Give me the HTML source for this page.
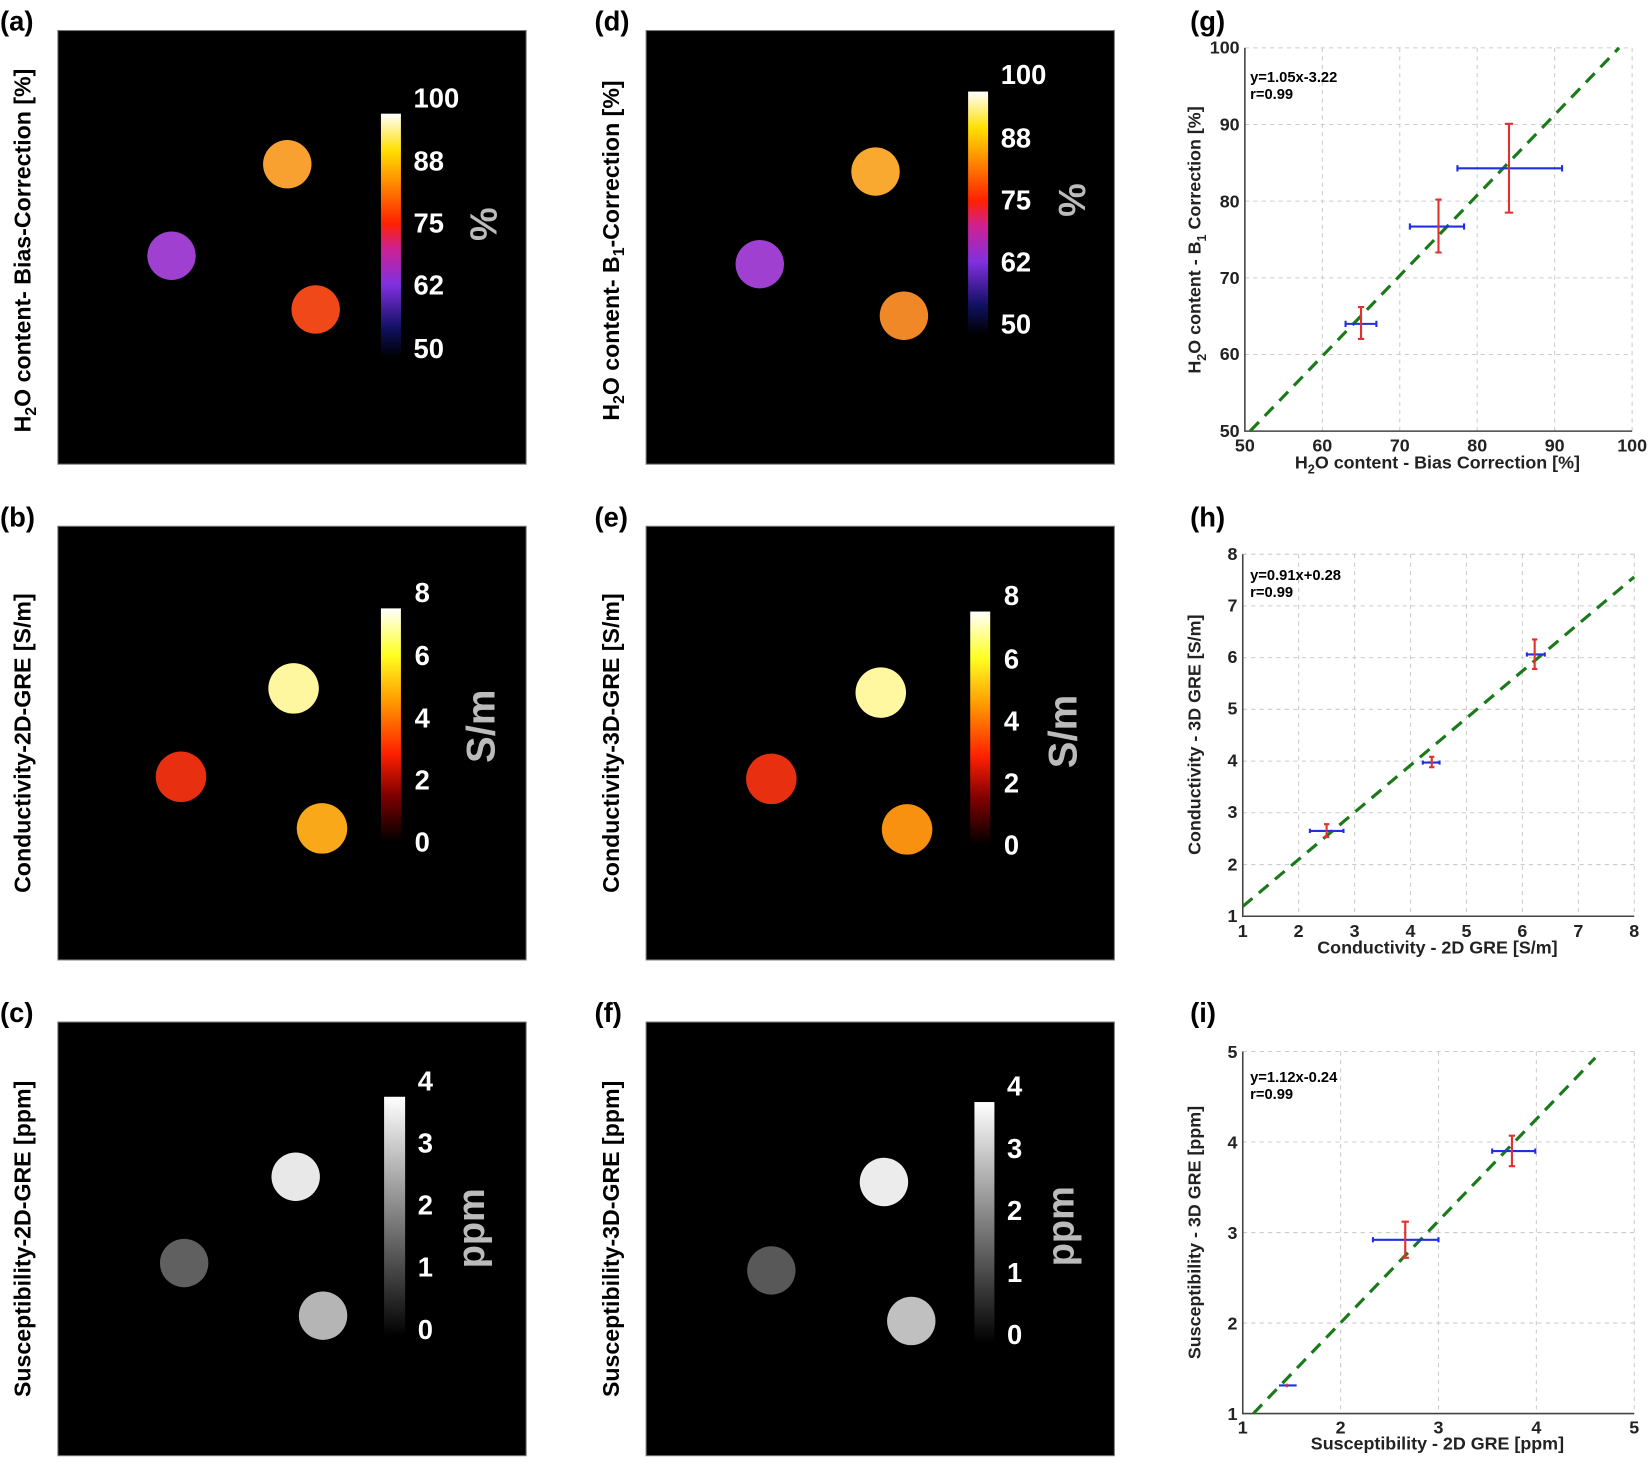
<!DOCTYPE html>
<html><head><meta charset="utf-8"><style>
html,body{margin:0;padding:0;background:#fff}
svg{display:block}
text{font-family:"Liberation Sans",sans-serif;font-weight:bold}
</style></head><body>
<svg width="1650" height="1462" viewBox="0 0 1568 1389" preserveAspectRatio="none" xmlns="http://www.w3.org/2000/svg">
<defs>
<linearGradient id="fire" x1="0" y1="1" x2="0" y2="0">
<stop offset="0" stop-color="#000"/><stop offset="0.12" stop-color="#101060"/><stop offset="0.3" stop-color="#8030e0"/><stop offset="0.45" stop-color="#d02090"/><stop offset="0.55" stop-color="#ff2000"/><stop offset="0.7" stop-color="#ff8000"/><stop offset="0.85" stop-color="#ffe000"/><stop offset="1" stop-color="#fff"/>
</linearGradient>
<linearGradient id="hot" x1="0" y1="1" x2="0" y2="0">
<stop offset="0" stop-color="#000"/><stop offset="0.2" stop-color="#800000"/><stop offset="0.38" stop-color="#ff2000"/><stop offset="0.6" stop-color="#ff9900"/><stop offset="0.8" stop-color="#ffff20"/><stop offset="1" stop-color="#fff"/>
</linearGradient>
<linearGradient id="gray" x1="0" y1="1" x2="0" y2="0">
<stop offset="0" stop-color="#000"/><stop offset="1" stop-color="#fff"/>
</linearGradient>
</defs>

<g font-size="26" fill="#000">
<text x="0" y="29">(a)</text><text x="0" y="500">(b)</text><text x="0" y="971">(c)</text>
<text x="565" y="29">(d)</text><text x="565" y="500">(e)</text><text x="565" y="971">(f)</text>
<text x="1131" y="29">(g)</text><text x="1131" y="500">(h)</text><text x="1131" y="971">(i)</text>
</g>

<g fill="#000" stroke="#777" stroke-width="1">
<rect x="55" y="29" width="445" height="412"/><rect x="614" y="29" width="445" height="412"/>
<rect x="55" y="500" width="445" height="412"/><rect x="614" y="500" width="445" height="412"/>
<rect x="55" y="971" width="445" height="412"/><rect x="614" y="971" width="445" height="412"/>
</g>

<g font-size="22" fill="#000" text-anchor="middle">
<text transform="translate(29,238) rotate(-90)">H<tspan font-size="15" dy="5">2</tspan><tspan dy="-5">O content- Bias-Correction [%]</tspan></text>
<text transform="translate(588,238) rotate(-90)">H<tspan font-size="15" dy="5">2</tspan><tspan dy="-5">O content- B</tspan><tspan font-size="15" dy="5">1</tspan><tspan dy="-5">-Correction [%]</tspan></text>
<text transform="translate(29,706) rotate(-90)">Conductivity-2D-GRE [S/m]</text>
<text transform="translate(588,706) rotate(-90)">Conductivity-3D-GRE [S/m]</text>
<text transform="translate(29,1177) rotate(-90)">Susceptibility-2D-GRE [ppm]</text>
<text transform="translate(588,1177) rotate(-90)">Susceptibility-3D-GRE [ppm]</text>
</g>

<!-- panel a -->
<circle cx="273" cy="156" r="23" fill="#f8a030"/>
<circle cx="163" cy="243" r="23" fill="#a040d0"/>
<circle cx="300" cy="294" r="23" fill="#f04818"/>
<rect x="362" y="108" width="19" height="232" fill="url(#fire)"/>
<g fill="#fff" font-size="26" font-weight="normal">
<text x="393" y="102">100</text><text x="393" y="162">88</text><text x="393" y="221">75</text><text x="393" y="280">62</text><text x="393" y="340">50</text>
</g>
<text transform="translate(472,213) rotate(-90)" text-anchor="middle" fill="#bbb" font-size="36">%</text>

<!-- panel d -->
<circle cx="832" cy="163" r="23" fill="#f9a830"/>
<circle cx="722" cy="251" r="23" fill="#a040d0"/>
<circle cx="859" cy="300" r="23" fill="#f08828"/>
<rect x="920" y="87" width="19" height="231" fill="url(#fire)"/>
<g fill="#fff" font-size="26" font-weight="normal">
<text x="951" y="80">100</text><text x="951" y="140">88</text><text x="951" y="199">75</text><text x="951" y="258">62</text><text x="951" y="317">50</text>
</g>
<text transform="translate(1031,190) rotate(-90)" text-anchor="middle" fill="#bbb" font-size="36">%</text>

<!-- panel b -->
<circle cx="279" cy="654" r="24" fill="#fff6a0"/>
<circle cx="172" cy="738" r="24" fill="#e83010"/>
<circle cx="306" cy="787" r="24" fill="#f8a818"/>
<rect x="362" y="578" width="19" height="222" fill="url(#hot)"/>
<g fill="#fff" font-size="26" font-weight="normal">
<text x="394" y="572">8</text><text x="394" y="632">6</text><text x="394" y="691">4</text><text x="394" y="750">2</text><text x="394" y="809">0</text>
</g>
<text transform="translate(470,690) rotate(-90)" text-anchor="middle" fill="#bbb" font-size="38">S/m</text>

<!-- panel e -->
<circle cx="837" cy="658" r="24" fill="#fff8a0"/>
<circle cx="733" cy="740" r="24" fill="#e83010"/>
<circle cx="862" cy="788" r="24" fill="#f89010"/>
<rect x="922" y="581" width="19" height="222" fill="url(#hot)"/>
<g fill="#fff" font-size="26" font-weight="normal">
<text x="954" y="575">8</text><text x="954" y="635">6</text><text x="954" y="694">4</text><text x="954" y="753">2</text><text x="954" y="812">0</text>
</g>
<text transform="translate(1023,695) rotate(-90)" text-anchor="middle" fill="#bbb" font-size="38">S/m</text>

<!-- panel c -->
<circle cx="281" cy="1118" r="23" fill="#e8e8e8"/>
<circle cx="175" cy="1200" r="23" fill="#606060"/>
<circle cx="307" cy="1250" r="23" fill="#b5b5b5"/>
<rect x="365" y="1042" width="20" height="228" fill="url(#gray)"/>
<g fill="#fff" font-size="26" font-weight="normal">
<text x="397" y="1036">4</text><text x="397" y="1095">3</text><text x="397" y="1154">2</text><text x="397" y="1213">1</text><text x="397" y="1272">0</text>
</g>
<text transform="translate(460,1167) rotate(-90)" text-anchor="middle" fill="#bbb" font-size="36">ppm</text>

<!-- panel f -->
<circle cx="840" cy="1123" r="23" fill="#ececec"/>
<circle cx="733" cy="1207" r="23" fill="#585858"/>
<circle cx="866" cy="1255" r="23" fill="#c0c0c0"/>
<rect x="926" y="1047" width="19" height="229" fill="url(#gray)"/>
<g fill="#fff" font-size="26" font-weight="normal">
<text x="957" y="1041">4</text><text x="957" y="1100">3</text><text x="957" y="1159">2</text><text x="957" y="1218">1</text><text x="957" y="1277">0</text>
</g>
<text transform="translate(1020,1165) rotate(-90)" text-anchor="middle" fill="#bbb" font-size="36">ppm</text>

<!-- ===== plot g ===== -->
<g stroke="#ccc" stroke-width="1" stroke-dasharray="4 4">
<line x1="1256.6" y1="45.5" x2="1256.6" y2="409.6"/><line x1="1330.2" y1="45.5" x2="1330.2" y2="409.6"/><line x1="1403.8" y1="45.5" x2="1403.8" y2="409.6"/><line x1="1477.4" y1="45.5" x2="1477.4" y2="409.6"/><line x1="1551" y1="45.5" x2="1551" y2="409.6"/>
<line x1="1183" y1="336.8" x2="1551" y2="336.8"/><line x1="1183" y1="264" x2="1551" y2="264"/><line x1="1183" y1="191.1" x2="1551" y2="191.1"/><line x1="1183" y1="118.3" x2="1551" y2="118.3"/><line x1="1183" y1="45.5" x2="1551" y2="45.5"/>
</g>
<path d="M1183 45.5V409.6H1551" fill="none" stroke="#444" stroke-width="1.5"/>
<line x1="1188" y1="409.6" x2="1538.6" y2="45.5" stroke="#1a7a1a" stroke-width="3" stroke-dasharray="12 8"/>
<g stroke="#2030e0" stroke-width="2">
<path d="M1278.7 307.7H1308M1278.7 304.7v6M1308 304.7v6"/>
<path d="M1339.8 215.2H1391.3M1339.8 212.2v6M1391.3 212.2v6"/>
<path d="M1385 159.9H1484.4M1385 156.9v6M1484.4 156.9v6"/>
</g>
<g stroke="#e03030" stroke-width="2">
<path d="M1293.4 322V291.7M1290.4 322h6M1290.4 291.7h6"/>
<path d="M1367 239.9V189.6M1364 239.9h6M1364 189.6h6"/>
<path d="M1434 202V117.6M1430 202h8M1430 117.6h8"/>
</g>
<g font-size="17" fill="#222" text-anchor="end">
<text x="1178" y="51">100</text><text x="1178" y="124">90</text><text x="1178" y="197">80</text><text x="1178" y="270">70</text><text x="1178" y="342">60</text><text x="1178" y="415">50</text>
</g>
<g font-size="17" fill="#222" text-anchor="middle">
<text x="1183" y="429">50</text><text x="1256.6" y="429">60</text><text x="1330.2" y="429">70</text><text x="1403.8" y="429">80</text><text x="1477.4" y="429">90</text><text x="1551" y="429">100</text>
<text x="1366" y="445">H<tspan font-size="12" dy="5">2</tspan><tspan dy="-5">O content - Bias Correction [%]</tspan></text>
<text transform="translate(1141,228) rotate(-90)">H<tspan font-size="12" dy="5">2</tspan><tspan dy="-5">O content - B</tspan><tspan font-size="12" dy="5">1</tspan><tspan dy="-5"> Correction [%]</tspan></text>
</g>
<g font-size="14" fill="#000"><text x="1188" y="78">y=1.05x-3.22</text><text x="1188" y="94">r=0.99</text></g>

<!-- ===== plot h ===== -->
<g stroke="#ccc" stroke-width="1" stroke-dasharray="4 4">
<line x1="1234.1" y1="526.5" x2="1234.1" y2="870.5"/><line x1="1287.3" y1="526.5" x2="1287.3" y2="870.5"/><line x1="1340.4" y1="526.5" x2="1340.4" y2="870.5"/><line x1="1393.6" y1="526.5" x2="1393.6" y2="870.5"/><line x1="1446.7" y1="526.5" x2="1446.7" y2="870.5"/><line x1="1499.9" y1="526.5" x2="1499.9" y2="870.5"/><line x1="1553" y1="526.5" x2="1553" y2="870.5"/>
<line x1="1181" y1="821.4" x2="1553" y2="821.4"/><line x1="1181" y1="772.2" x2="1553" y2="772.2"/><line x1="1181" y1="723.1" x2="1553" y2="723.1"/><line x1="1181" y1="673.9" x2="1553" y2="673.9"/><line x1="1181" y1="624.8" x2="1553" y2="624.8"/><line x1="1181" y1="575.6" x2="1553" y2="575.6"/><line x1="1181" y1="526.5" x2="1553" y2="526.5"/>
</g>
<path d="M1181 526.5V870.5H1553" fill="none" stroke="#444" stroke-width="1.5"/>
<line x1="1181" y1="861.2" x2="1553" y2="548.1" stroke="#1a7a1a" stroke-width="3" stroke-dasharray="12 8"/>
<g stroke="#2030e0" stroke-width="2">
<path d="M1244.8 789.4H1276.7M1244.8 787.4v4M1276.7 787.4v4"/>
<path d="M1352.1 724.5H1368M1352.1 722.5v4M1368 722.5v4"/>
<path d="M1451 621.8H1468M1451 619.8v4M1468 619.8v4"/>
</g>
<g stroke="#e03030" stroke-width="2">
<path d="M1260.7 795.3V783M1258.2 795.3h5M1258.2 783h5"/>
<path d="M1360.6 728.9V719M1358.1 728.9h5M1358.1 719h5"/>
<path d="M1458.4 635.5V607.5M1455.9 635.5h5M1455.9 607.5h5"/>
</g>
<g font-size="17" fill="#222" text-anchor="end">
<text x="1176" y="532">8</text><text x="1176" y="581">7</text><text x="1176" y="630">6</text><text x="1176" y="679">5</text><text x="1176" y="728">4</text><text x="1176" y="777">3</text><text x="1176" y="827">2</text><text x="1176" y="876">1</text>
</g>
<g font-size="17" fill="#222" text-anchor="middle">
<text x="1181" y="890">1</text><text x="1234.1" y="890">2</text><text x="1287.3" y="890">3</text><text x="1340.4" y="890">4</text><text x="1393.6" y="890">5</text><text x="1446.7" y="890">6</text><text x="1499.9" y="890">7</text><text x="1553" y="890">8</text>
<text x="1366" y="906">Conductivity - 2D GRE [S/m]</text>
<text transform="translate(1141,698) rotate(-90)">Conductivity - 3D GRE [S/m]</text>
</g>
<g font-size="14" fill="#000"><text x="1188" y="551">y=0.91x+0.28</text><text x="1188" y="567">r=0.99</text></g>

<!-- ===== plot i ===== -->
<g stroke="#ccc" stroke-width="1" stroke-dasharray="4 4">
<line x1="1274" y1="999" x2="1274" y2="1343"/><line x1="1367" y1="999" x2="1367" y2="1343"/><line x1="1460" y1="999" x2="1460" y2="1343"/><line x1="1553" y1="999" x2="1553" y2="1343"/>
<line x1="1181" y1="1257" x2="1553" y2="1257"/><line x1="1181" y1="1171" x2="1553" y2="1171"/><line x1="1181" y1="1085" x2="1553" y2="1085"/><line x1="1181" y1="999" x2="1553" y2="999"/>
</g>
<path d="M1181 999V1343H1553" fill="none" stroke="#444" stroke-width="1.5"/>
<line x1="1191" y1="1343" x2="1516" y2="1005" stroke="#1a7a1a" stroke-width="3" stroke-dasharray="12 8"/>
<g stroke="#2030e0" stroke-width="2">
<path d="M1215.4 1316.3H1232.2"/>
<path d="M1304.7 1177.9H1367M1304.7 1175.4v5M1367 1175.4v5"/>
<path d="M1418 1093.6H1459M1418 1091.1v5M1459 1091.1v5"/>
</g>
<g stroke="#e03030" stroke-width="2">
<path d="M1222.9 1318V1314.6"/>
<path d="M1335.4 1195V1160.7M1331.9 1195h7M1331.9 1160.7h7"/>
<path d="M1436.8 1108V1079M1433.8 1108h6M1433.8 1079h6"/>
</g>
<g font-size="17" fill="#222" text-anchor="end">
<text x="1176" y="1005">5</text><text x="1176" y="1091">4</text><text x="1176" y="1177">3</text><text x="1176" y="1263">2</text><text x="1176" y="1349">1</text>
</g>
<g font-size="17" fill="#222" text-anchor="middle">
<text x="1181" y="1362">1</text><text x="1274" y="1362">2</text><text x="1367" y="1362">3</text><text x="1460" y="1362">4</text><text x="1553" y="1362">5</text>
<text x="1366" y="1377">Susceptibility - 2D GRE [ppm]</text>
<text transform="translate(1141,1171) rotate(-90)">Susceptibility - 3D GRE [ppm]</text>
</g>
<g font-size="14" fill="#000"><text x="1188" y="1028">y=1.12x-0.24</text><text x="1188" y="1044">r=0.99</text></g>
</svg>
</body></html>
